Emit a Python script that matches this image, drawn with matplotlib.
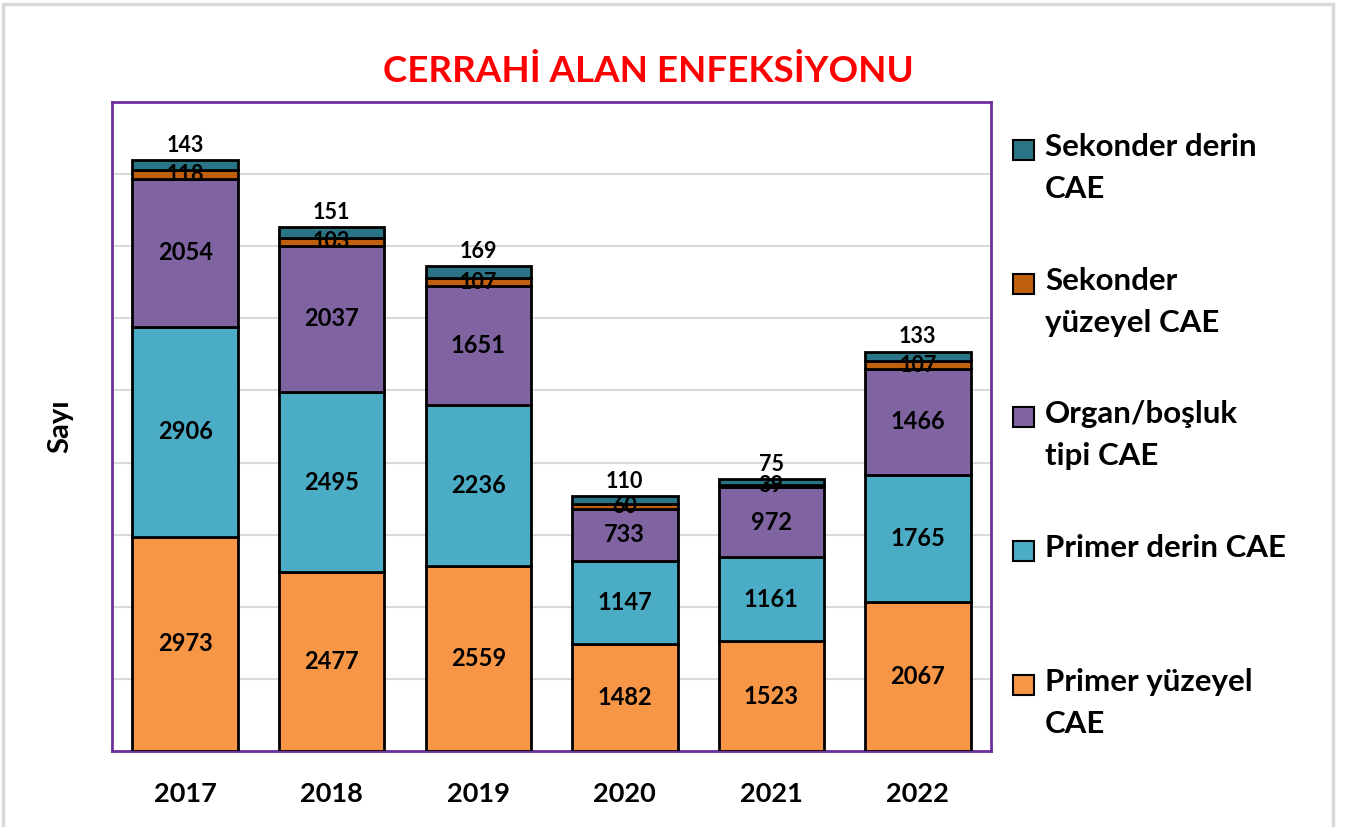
import numpy as np
import matplotlib
matplotlib.use("Agg")
import matplotlib.pyplot as plt
from matplotlib.patches import Rectangle

# Veriler
yillar = ["2017", "2018", "2019", "2020", "2021", "2022"]
primer_yuzeyel = [2973, 2477, 2559, 1482, 1523, 2067]
primer_derin = [2906, 2495, 2236, 1147, 1161, 1765]
organ_bosluk = [2054, 2037, 1651, 733, 972, 1466]
sekonder_yuzeyel = [118, 103, 107, 60, 39, 107]
sekonder_derin = [143, 151, 169, 110, 75, 133]

seriler = ["Primer yüzeyel\nCAE", "Primer derin CAE", "Organ/boşluk\ntipi CAE",
           "Sekonder\nyüzeyel CAE", "Sekonder derin\nCAE"]
degerler = [primer_yuzeyel, primer_derin, organ_bosluk, sekonder_yuzeyel, sekonder_derin]
renkler = ["#F79646", "#4BACC6", "#8064A2", "#C0600F", "#2A7585"]

plt.rcParams["font.family"] = ["Lato", "DejaVu Sans"]
plt.rcParams["font.weight"] = "bold"

fig = plt.figure(figsize=(13.46, 8.27), dpi=100)
ax = fig.add_axes([0.0832, 0.0919, 0.6531, 0.7848])

x = np.arange(len(yillar))
alt = np.zeros(len(yillar))
for i, (ad, v, c) in enumerate(zip(seriler, degerler, renkler)):
    v = np.array(v, dtype=float)
    bars = ax.bar(x, v, 0.72, bottom=alt, color=c, edgecolor="black", linewidth=2, zorder=3)
    for j, b in enumerate(bars):
        if i == 4:
            ax.annotate(f"{int(v[j])}", (b.get_x() + b.get_width() / 2, alt[j] + v[j]),
                        xytext=(0, 3), textcoords="offset points",
                        ha="center", va="bottom", fontsize=15.5, fontweight="bold")
        else:
            fs = 15.5 if i == 3 else 17
            ax.text(b.get_x() + b.get_width() / 2, alt[j] + v[j] / 2, f"{int(v[j])}",
                    ha="center", va="center", fontsize=fs, fontweight="bold", zorder=4)
    alt += v

ax.set_xlim(-0.5, len(yillar) - 0.5)
ax.set_ylim(0, 9000)
ax.set_yticks(np.arange(0, 9001, 1000))
ax.set_yticklabels([])
ax.tick_params(axis="y", length=0)
ax.tick_params(axis="x", length=0, pad=22, labelsize=19.5)
ax.set_xticks(x)
ax.set_xticklabels(yillar, fontweight="bold")
ax.grid(axis="y", color="#D9D9D9", linewidth=1.5, zorder=0)
for s in ax.spines.values():
    s.set_color("#7030A0")
    s.set_linewidth(2)

ax.set_ylabel("Sayı", fontsize=21, fontweight="bold", labelpad=24)
fig.text(0.482, 0.914, "CERRAHİ ALAN ENFEKSİYONU", color="red", fontsize=26.5,
         fontweight="bold", ha="center", va="center")

# Lejant (üstten alta: sekonder derin -> primer yüzeyel)
W, H = 1346, 827
for k, i in enumerate(range(4, -1, -1)):
    yc = 150 + k * 133.7
    fig.patches.append(Rectangle((1013 / W, 1 - (yc + 10) / H), 21 / W, 20 / H,
                                 transform=fig.transFigure, facecolor=renkler[i],
                                 edgecolor="black", linewidth=1.5))
    fig.text(1045 / W, 1 - (yc - 17) / H, seriler[i], fontsize=22.5, fontweight="bold",
             ha="left", va="top", linespacing=1.6)

# Dış çerçeve
fig.patches.append(Rectangle((0.002, -0.01), 0.9885, 1.005, transform=fig.transFigure,
                             facecolor="none", edgecolor="#D9D9D9", linewidth=2.5))

fig.savefig("out.png", dpi=100)
